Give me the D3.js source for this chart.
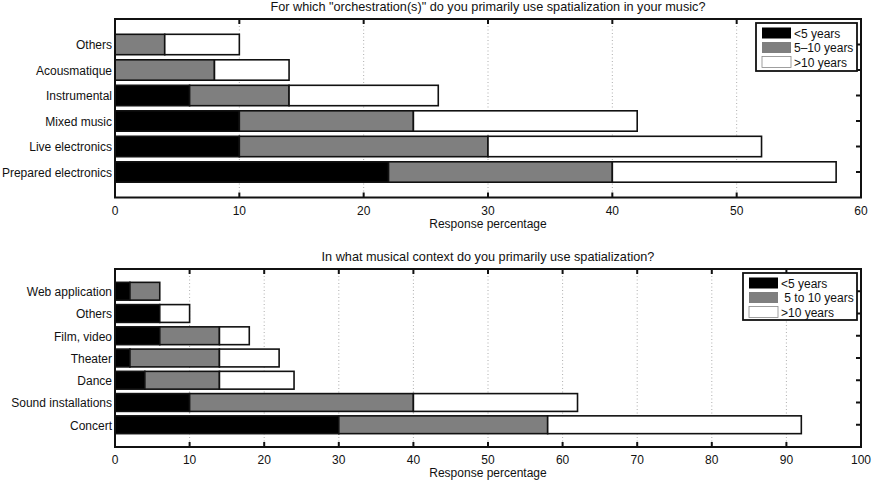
<!DOCTYPE html>
<html><head><meta charset="utf-8">
<script src="https://cdn.jsdelivr.net/npm/d3@7"></script>
<style>body{margin:0;background:#fff}svg{display:block}text{font-family:"Liberation Sans",Arial,sans-serif;fill:#111}</style>
</head><body><svg id="c" width="874" height="480"></svg>
<script>
// ---- Data ----
const seriesKeys = ["lt5", "mid", "gt10"];
const seriesColors = ["#000000", "#7f7f7f", "#ffffff"];

const topTitle = 'For which "orchestration(s)" do you primarily use spatialization in your music?';
const topCategories = ["Prepared electronics", "Live electronics", "Mixed music", "Instrumental", "Acousmatique", "Others"];
const topLt5  = [22, 10, 10, 6, 0, 0];
const topMid  = [18, 20, 14, 8, 8, 4];
const topGt10 = [18, 22, 18, 12, 6, 6];
const topLegend = ["<5 years", "5\u201310 years", ">10 years"];
const topTicks = [0, 10, 20, 30, 40, 50, 60];

const botTitle = "In what musical context do you primarily use spatialization?";
const botCategories = ["Concert", "Sound installations", "Dance", "Theater", "Film, video", "Others", "Web application"];
const botLt5  = [30, 10, 4, 2, 6, 6, 2];
const botMid  = [28, 30, 10, 12, 8, 0, 4];
const botGt10 = [34, 22, 10, 8, 4, 4, 0];
const botLegend = ["<5 years", " 5 to 10 years", ">10 years"];
const botTicks = [0, 10, 20, 30, 40, 50, 60, 70, 80, 90, 100];

const xLabel = "Response percentage";

const svg = d3.select("#c");

function panel(cfg) {
  const g = svg.append("g");
  const x = d3.scaleLinear().domain([0, cfg.ticks[cfg.ticks.length - 1]]).range([cfg.left, cfg.right]);
  const n = cfg.cats.length;
  const y = d3.scaleLinear().domain([0, n + 1]).range([cfg.bottom, cfg.top]);
  const unit = (cfg.bottom - cfg.top) / (n + 1);
  const bh = unit * 0.8;

  // grid
  g.selectAll(".grid").data(cfg.ticks.slice(1, -1)).enter().append("line")
    .attr("x1", d => x(d)).attr("x2", d => x(d))
    .attr("y1", cfg.top).attr("y2", cfg.bottom)
    .attr("stroke", "#999").attr("stroke-width", 0.8).attr("stroke-dasharray", "1,2.5");

  // stacked data
  const rows = cfg.cats.map((c, i) => ({ cat: c, i: i + 1, lt5: cfg.s[0][i], mid: cfg.s[1][i], gt10: cfg.s[2][i] }));
  const stack = d3.stack().keys(seriesKeys)(rows);
  stack.forEach((layer, k) => {
    g.selectAll(null).data(layer.filter(d => d[1] - d[0] > 0)).enter().append("rect")
      .attr("x", d => x(d[0])).attr("width", d => x(d[1]) - x(d[0]))
      .attr("y", d => y(d.data.i) - bh / 2).attr("height", bh)
      .attr("fill", seriesColors[k]).attr("stroke", "#111").attr("stroke-width", 1.6);
  });

  // box
  g.append("rect").attr("x", cfg.left).attr("y", cfg.top)
    .attr("width", cfg.right - cfg.left).attr("height", cfg.bottom - cfg.top)
    .attr("fill", "none").attr("stroke", "#111").attr("stroke-width", 2);

  // x ticks (inward, bottom and top)
  const tl = 5;
  cfg.ticks.forEach(t => {
    g.append("line").attr("x1", x(t)).attr("x2", x(t)).attr("y1", cfg.bottom).attr("y2", cfg.bottom - tl).attr("stroke", "#111").attr("stroke-width", 2);
    g.append("line").attr("x1", x(t)).attr("x2", x(t)).attr("y1", cfg.top).attr("y2", cfg.top + tl).attr("stroke", "#111").attr("stroke-width", 2);
    g.append("text").attr("x", x(t)).attr("y", cfg.bottom + 17).attr("text-anchor", "middle").attr("font-size", 12).text(t);
  });
  // y ticks (inward, left and right)
  rows.forEach(r => {
    g.append("line").attr("x1", cfg.right).attr("x2", cfg.right - tl).attr("y1", y(r.i)).attr("y2", y(r.i)).attr("stroke", "#111").attr("stroke-width", 2);
    g.append("text").attr("x", cfg.left - 3).attr("y", y(r.i)).attr("dy", "0.4em").attr("text-anchor", "end").attr("font-size", 12).text(r.cat);
  });

  // titles
  g.append("text").attr("x", (cfg.left + cfg.right) / 2).attr("y", cfg.top - 8).attr("text-anchor", "middle").attr("font-size", 12.7).text(cfg.title);
  g.append("text").attr("x", (cfg.left + cfg.right) / 2).attr("y", cfg.bottom + 30).attr("text-anchor", "middle").attr("font-size", 12).text(xLabel);

  // legend
  const L = cfg.legend;
  const lg = g.append("g");
  lg.append("rect").attr("x", L.x).attr("y", L.y).attr("width", L.w).attr("height", L.h)
    .attr("fill", "#fff").attr("stroke", "#111").attr("stroke-width", 1.8);
  cfg.legendLabels.forEach((lab, k) => {
    const cy = L.y + 10 + k * 14.5;
    lg.append("rect").attr("x", L.x + 6).attr("y", cy - 5.5).attr("width", L.sw).attr("height", 11)
      .attr("fill", seriesColors[k]).attr("stroke", k === 2 ? "#888" : "none").attr("stroke-width", 0.8);
    lg.append("text").attr("x", L.x + 9 + L.sw).attr("y", cy).attr("dy", "0.38em").attr("font-size", 12).attr("xml:space", "preserve").text(lab);
  });
}

panel({
  title: topTitle, cats: topCategories, s: [topLt5, topMid, topGt10], ticks: topTicks,
  left: 115, right: 861, top: 19, bottom: 197.5,
  legend: { x: 756, y: 23, w: 101, h: 48, sw: 29 }, legendLabels: topLegend
});
panel({
  title: botTitle, cats: botCategories, s: [botLt5, botMid, botGt10], ticks: botTicks,
  left: 115, right: 861, top: 269, bottom: 447,
  legend: { x: 743, y: 273, w: 114, h: 47, sw: 29 }, legendLabels: botLegend
});
</script></body></html>
